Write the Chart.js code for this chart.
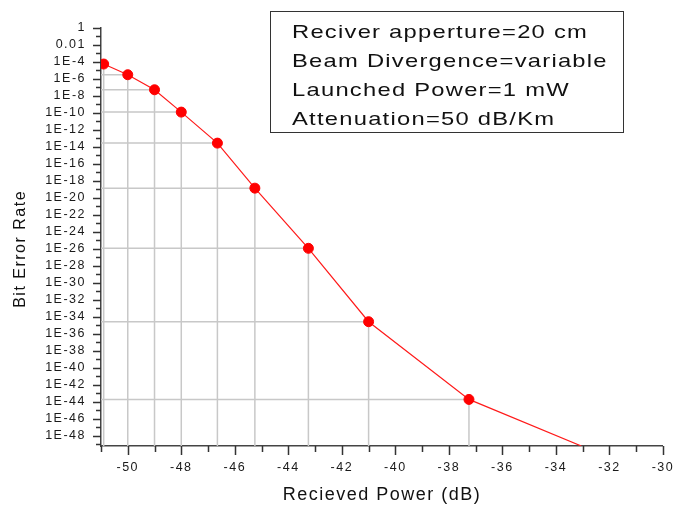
<!DOCTYPE html>
<html>
<head>
<meta charset="utf-8">
<script src="https://cdn.jsdelivr.net/npm/chart.js@4.4.1/dist/chart.umd.min.js"></script>
<style>
html,body{margin:0;padding:0;background:#fff;}
#wrap{position:relative;width:677px;height:506px;overflow:hidden;}
#c{position:absolute;left:0;top:0;}
#info{position:absolute;left:270px;top:11px;width:352px;height:115px;padding-top:5px;border:1.5px solid #333;background:#fff;
  font-family:"Liberation Sans",Arial,sans-serif;font-size:19px;line-height:29px;color:#111;}
#info div{white-space:nowrap;letter-spacing:1px;transform:scaleX(1.25);transform-origin:left center;margin-left:20.5px;}
</style>
</head>
<body>
<div id="wrap">
  <canvas id="c" width="677" height="506"></canvas>
  <div id="info">
    <div>Reciver apperture=20 cm</div>
    <div>Beam Divergence=variable</div>
    <div>Launched Power=1 mW</div>
    <div>Attenuation=50 dB/Km</div>
  </div>
</div>
<script>
// ---- data ----
const receivedPowerDb = [-50.9, -50, -49, -48, -46.65, -45.25, -43.25, -41, -37.25, -33.05];
const bitErrorRate   = [5.75e-5, 3.16e-6, 5.37e-8, 1.26e-10, 2.82e-14, 1.41e-19, 1.17e-26, 2.69e-35, 1.91e-44, 6.3e-50];

// ---- tick labels ----
const xTickLabels = ['-50','-48','-46','-44','-42','-40','-38','-36','-34','-32','-30'];
const yTickLabels = ['1','0.01','1E-4','1E-6','1E-8','1E-10','1E-12','1E-14','1E-16','1E-18','1E-20',
  '1E-22','1E-24','1E-26','1E-28','1E-30','1E-32','1E-34','1E-36','1E-38','1E-40','1E-42','1E-44','1E-46','1E-48'];

const xMin = -51, xMax = -30;
const yMin = 6.3e-50, yMax = 1;

// build major/minor tick lists from labels
const xTicks = [];
xTickLabels.forEach(l => { const v = Number(l); xTicks.push({value: v - 1, label: '', major: false}); xTicks.push({value: v, label: l, major: true}); });
const yTicks = [];
yTickLabels.forEach(l => { const v = Number(l); yTicks.push({value: v, label: l, major: true}); yTicks.push({value: v / 10, label: '', major: false}); });

const FONT = '"Liberation Sans", Arial, sans-serif';

const spacingPlugin = {
  id: 'spacing',
  beforeDraw(chart) { chart.ctx.letterSpacing = '1.5px'; }
};

const dropLines = {
  id: 'dropLines',
  beforeDatasetsDraw(chart) {
    const {ctx, chartArea} = chart;
    const meta = chart.getDatasetMeta(0);
    const last = meta.data.length - 1;
    ctx.save();
    ctx.strokeStyle = '#c8c8c8';
    ctx.lineWidth = 1.5;
    ctx.beginPath();
    meta.data.forEach((pt, i) => {
      if (i === last) return;
      ctx.moveTo(pt.x, pt.y); ctx.lineTo(pt.x, chartArea.bottom);
      ctx.moveTo(chartArea.left, pt.y); ctx.lineTo(pt.x, pt.y);
    });
    ctx.stroke();
    ctx.restore();
  }
};

const tickMarks = {
  id: 'tickMarks',
  afterDraw(chart) {
    const {ctx, chartArea, scales} = chart;
    ctx.save();
    ctx.strokeStyle = '#333';
    ctx.lineWidth = 1.5;
    ctx.beginPath();
    scales.y.ticks.forEach(t => {
      const y = Math.round(scales.y.getPixelForValue(t.value)) + 0.5;
      const len = t.major ? 8 : 5;
      ctx.moveTo(chartArea.left, y); ctx.lineTo(chartArea.left - len, y);
    });
    scales.x.ticks.forEach(t => {
      const x = Math.round(scales.x.getPixelForValue(t.value)) + 0.5;
      const len = t.major ? 9 : 6;
      ctx.moveTo(x, chartArea.bottom); ctx.lineTo(x, chartArea.bottom + len);
    });
    ctx.stroke();
    ctx.restore();
  }
};

new Chart(document.getElementById('c'), {
  type: 'line',
  data: {
    datasets: [{
      data: receivedPowerDb.map((x, i) => ({x, y: bitErrorRate[i]})),
      borderColor: '#ff1a1a',
      borderWidth: 1.2,
      backgroundColor: '#ff0000',
      pointBackgroundColor: '#ff0000',
      pointBorderColor: '#ff0000',
      pointRadius: ctx => ctx.dataIndex === receivedPowerDb.length - 1 ? 0 : 5,
      pointBorderWidth: 1,
      tension: 0,
      fill: false
    }]
  },
  options: {
    responsive: false,
    animation: false,
    layout: {padding: {top: 28, right: 14, left: 0, bottom: 0}},
    plugins: {legend: {display: false}, tooltip: {enabled: false}},
    scales: {
      x: {
        type: 'linear',
        min: xMin, max: xMax,
        afterBuildTicks: axis => { axis.ticks = xTicks.map(t => ({value: t.value, major: t.major})); },
        afterFit: s => { s.height = 60; },
        ticks: {
          autoSkip: false, maxRotation: 0, padding: 5, color: '#1a1a1a',
          font: {family: FONT, size: 12.5},
          callback: (v, i) => xTicks[i] ? xTicks[i].label : ''
        },
        grid: {display: true, drawOnChartArea: false, drawTicks: true, tickLength: 9, tickColor: 'rgba(0,0,0,0)'},
        border: {display: true, color: '#444', width: 1.5},
        title: {display: true, text: 'Recieved Power (dB)', color: '#111', font: {family: FONT, size: 18}, padding: {top: 0, bottom: 0}}
      },
      y: {
        type: 'logarithmic',
        min: yMin, max: yMax,
        afterBuildTicks: axis => { axis.ticks = yTicks.map(t => ({value: t.value, major: t.major})); },
        afterFit: s => { s.width = 101; },
        ticks: {
          autoSkip: false, padding: 7, color: '#1a1a1a',
          font: {family: FONT, size: 12.5},
          callback: (v, i) => yTicks[i] ? yTicks[i].label : ''
        },
        grid: {display: true, drawOnChartArea: false, drawTicks: true, tickLength: 8, tickColor: 'rgba(0,0,0,0)'},
        border: {display: true, color: '#444', width: 1.5},
        title: {display: true, text: 'Bit Error Rate    ', color: '#111', font: {family: FONT, size: 16}, padding: {top: 11, bottom: 0}}
      }
    }
  },
  plugins: [spacingPlugin, dropLines, tickMarks]
});
</script>
</body>
</html>
